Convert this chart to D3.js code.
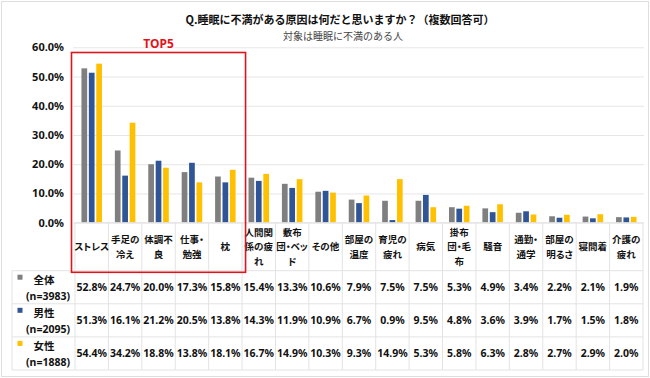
<!DOCTYPE html>
<html>
<head>
<meta charset="utf-8">
<script src="https://cdn.jsdelivr.net/npm/d3@7"></script>
<style>
  body { margin: 0; background: #fff; }
  svg { display: block; font-family: 'Noto Sans CJK JP', 'Noto Sans', sans-serif; }
</style>
</head>
<body>
<svg id="chart" width="650" height="378"></svg>
<script>
  'use strict';

  var categories = ['ストレス', '手足の冷え', '体調不良', '仕事・勉強', '枕', '人間関係の疲れ',
    '敷布団・ベッド', 'その他', '部屋の温度', '育児の疲れ', '病気', '掛布団・毛布', '騒音',
    '通勤・通学', '部屋の明るさ', '寝間着', '介護の疲れ'];
  var categoryLines = [['ストレス'], ['手足の', '冷え'], ['体調不', '良'], ['仕事・', '勉強'], ['枕'],
    ['人間関', '係の疲', 'れ'], ['敷布', '団・ベッ', 'ド'], ['その他'], ['部屋の', '温度'], ['育児の', '疲れ'],
    ['病気'], ['掛布', '団・毛', '布'], ['騒音'], ['通勤・', '通学'], ['部屋の', '明るさ'], ['寝間着'],
    ['介護の', '疲れ']];

  var series = ['全体', '男性', '女性'];
  var seriesN = ['(n=3983)', '(n=2095)', '(n=1888)'];
  var seriesColors = ['#7f7f7f', '#2f5597', '#ffc000'];

  var allValues = [52.8, 24.7, 20.0, 17.3, 15.8, 15.4, 13.3, 10.6, 7.9, 7.5, 7.5, 5.3, 4.9, 3.4, 2.2, 2.1, 1.9];
  var maleValues = [51.3, 16.1, 21.2, 20.5, 13.8, 14.3, 11.9, 10.9, 6.7, 0.9, 9.5, 4.8, 3.6, 3.9, 1.7, 1.5, 1.8];
  var femaleValues = [54.4, 34.2, 18.8, 13.8, 18.1, 16.7, 14.9, 10.3, 9.3, 14.9, 5.3, 5.8, 6.3, 2.8, 2.7, 2.9, 2.0];
  var seriesValues = [allValues, maleValues, femaleValues];

  var yTicks = [0, 10, 20, 30, 40, 50, 60];
  var topCount = 5;

  var svg = d3.select('#chart');
  var gridColor = '#e6e6e6';
  var tableColor = '#e3e3e3';

  var plotLeft = 75, plotRight = 643;
  var plotTop = 47.3, plotBottom = 222.7;
  var headerBottom = 270.7;
  var rowHeight = 33.1;
  var tableLeft = 12;

  var x = d3.scaleBand()
      .domain(categories)
      .range([plotLeft, plotRight]);

  var groupWidth = 20.5;
  var x1 = d3.scaleBand()
      .domain(series)
      .range([0, groupWidth])
      .paddingInner(0.23);

  var y = d3.scaleLinear()
      .domain([0, 60])
      .range([plotBottom, plotTop]);

  // outer frame
  svg.append('rect')
      .attr('x', 1.5).attr('y', 1.5)
      .attr('width', 647).attr('height', 375)
      .attr('fill', 'none')
      .attr('stroke', '#dedede');

  // titles
  svg.append('text')
      .attr('x', 340).attr('y', 24)
      .attr('text-anchor', 'middle')
      .style('font-size', '11px')
      .style('font-weight', 700)
      .attr('fill', '#111')
      .text('Q.睡眠に不満がある原因は何だと思いますか？（複数回答可）');

  svg.append('text')
      .attr('x', 343).attr('y', 40)
      .attr('text-anchor', 'middle')
      .style('font-size', '10px')
      .attr('fill', '#444')
      .text('対象は睡眠に不満のある人');

  // gridlines + y axis
  var yAxis = svg.append('g')
      .attr('transform', 'translate(' + (plotLeft - 2) + ',0)')
      .call(d3.axisLeft(y)
        .tickValues(yTicks)
        .tickSize(-(plotRight - plotLeft + 3))
        .tickPadding(9)
        .tickFormat(function(d) { return d.toFixed(1) + '%'; }));

  yAxis.select('.domain').remove();
  yAxis.selectAll('.tick line')
      .attr('stroke', gridColor);
  yAxis.selectAll('.tick text')
      .attr('fill', '#111')
      .style('font-size', '11px')
      .style('font-weight', 700)
      .style('font-family', "'Noto Sans', sans-serif");

  // bars
  var groups = svg.append('g')
      .selectAll('g')
      .data(categories)
      .enter()
    .append('g')
      .attr('transform', function(d) {
        return 'translate(' + (x(d) + (x.bandwidth() - groupWidth) / 2) + ',0)';
      });

  groups.selectAll('rect')
      .data(function(d, i) {
        return series.map(function(s, j) { return {series: s, value: seriesValues[j][i], color: seriesColors[j]}; });
      })
      .enter()
    .append('rect')
      .attr('x', function(d) { return x1(d.series); })
      .attr('y', function(d) { return y(d.value); })
      .attr('width', x1.bandwidth())
      .attr('height', function(d) { return y(0) - y(d.value); })
      .attr('fill', function(d) { return d.color; });

  // data table
  var table = svg.append('g');
  var tableBottom = headerBottom + rowHeight * series.length;

  // horizontal lines
  table.append('line')
      .attr('x1', plotLeft).attr('x2', plotRight)
      .attr('y1', plotBottom).attr('y2', plotBottom)
      .attr('stroke', tableColor);

  d3.range(series.length + 1).forEach(function(i) {
    table.append('line')
        .attr('x1', tableLeft).attr('x2', plotRight)
        .attr('y1', headerBottom + rowHeight * i)
        .attr('y2', headerBottom + rowHeight * i)
        .attr('stroke', tableColor);
  });

  // vertical lines
  categories.concat([null]).forEach(function(c) {
    var xx = c ? x(c) : plotRight;
    table.append('line')
        .attr('x1', xx).attr('x2', xx)
        .attr('y1', plotBottom).attr('y2', tableBottom)
        .attr('stroke', tableColor);
  });
  table.append('line')
      .attr('x1', tableLeft).attr('x2', tableLeft)
      .attr('y1', headerBottom).attr('y2', tableBottom)
      .attr('stroke', tableColor);

  // category labels
  var lineH = 14.6;
  var headerMid = (plotBottom + headerBottom) / 2;
  categories.forEach(function(c, i) {
    var lines = categoryLines[i];
    var t = table.append('text')
        .attr('text-anchor', 'middle')
        .attr('fill', '#111')
        .style('font-size', '9.5px')
        .style('font-weight', 700)
        .style('font-feature-settings', '"palt"');
    lines.forEach(function(l, k) {
      t.append('tspan')
          .attr('x', x(c) + x.bandwidth() / 2)
          .attr('y', headerMid + (k - (lines.length - 1) / 2) * lineH + 3.5)
          .text(l);
    });
  });

  // series rows
  series.forEach(function(s, j) {
    var rowTop = headerBottom + rowHeight * j;

    table.append('rect')
        .attr('x', 17.5).attr('y', rowTop + 4)
        .attr('width', 5).attr('height', 5)
        .attr('fill', seriesColors[j]);

    table.append('text')
        .attr('x', 44).attr('y', rowTop + 13)
        .attr('text-anchor', 'middle')
        .attr('fill', '#111')
        .style('font-size', '10.5px')
        .style('font-weight', 700)
        .text(s);

    table.append('text')
        .attr('x', 48).attr('y', rowTop + 29)
        .attr('text-anchor', 'middle')
        .attr('fill', '#111')
        .style('font-size', '10.5px')
        .style('font-weight', 700)
        .style('font-family', "'Noto Sans', sans-serif")
        .text(seriesN[j]);

    table.append('g')
        .selectAll('text')
        .data(seriesValues[j])
        .enter()
      .append('text')
        .attr('x', function(d, i) { return x(categories[i]) + x.bandwidth() / 2; })
        .attr('y', rowTop + rowHeight / 2 + 4)
        .attr('text-anchor', 'middle')
        .attr('fill', '#111')
        .style('font-size', '10.5px')
        .style('font-weight', 700)
        .style('font-family', "'Noto Sans', sans-serif")
        .text(function(d) { return d.toFixed(1) + '%'; });
  });

  // TOP5 highlight
  var boxLeft = x(categories[0]) - 3.5;
  var boxRight = x(categories[topCount - 1]) + x.bandwidth() + 3.5;
  svg.append('rect')
      .attr('x', boxLeft).attr('y', 52.5)
      .attr('width', boxRight - boxLeft)
      .attr('height', 272.3 - 52.5)
      .attr('fill', 'none')
      .attr('stroke', '#e2141b')
      .attr('stroke-width', 1.6);

  svg.append('text')
      .attr('x', (boxLeft + boxRight) / 2)
      .attr('y', 48)
      .attr('text-anchor', 'middle')
      .attr('fill', '#e2141b')
      .style('font-size', '12px')
      .style('font-weight', 700)
      .style('font-family', "'Noto Sans', sans-serif")
      .text('TOP' + topCount);
</script>
</body>
</html>
